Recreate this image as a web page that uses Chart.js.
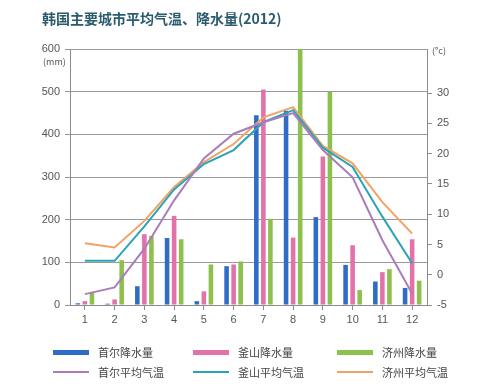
<!DOCTYPE html>
<html><head><meta charset="utf-8">
<script src="https://cdn.jsdelivr.net/npm/chart.js@4"></script>
<style>
html,body{margin:0;padding:0;background:#fff;}
#wrap{position:relative;width:500px;height:388px;overflow:hidden;font-family:"Noto Sans CJK SC","Liberation Sans",sans-serif;}
canvas{position:absolute;left:0;top:0;}
.t{position:absolute;white-space:nowrap;}
#title{left:42px;top:8px;font-size:14px;font-weight:bold;color:#2b5b6f;line-height:20px;}
.unit{font-size:9px;color:#555;line-height:10px;}
.lg{position:absolute;font-size:11px;color:#444;line-height:12px;white-space:nowrap;}
.mk{position:absolute;width:36px;}
</style></head><body>
<div id="wrap">
<canvas id="c" width="500" height="388"></canvas>
<div id="title" class="t">韩国主要城市平均气温、降水量(2012)</div>
<div class="t unit" style="left:43px;top:57px;">(mm)</div>
<div class="t unit" style="left:432px;top:46px;">(°c)</div>
<div id="legend"></div>
</div>
<script>
const months = ["1","2","3","4","5","6","7","8","9","10","11","12"];
const seoulRain = [4, 3, 44, 157, 9, 91, 445, 455, 206, 94, 55, 40];
const busanRain = [9, 13, 166, 209, 32, 95, 505, 158, 348, 140, 77, 154];
const jejuRain  = [29, 105, 162, 154, 95, 102, 202, 600, 499, 35, 84, 57];
const seoulTemp = [-3.2, -2.1, 4.3, 12.3, 19.2, 23.3, 25.2, 26.7, 20.6, 16.1, 5.7, -3.1];
const busanTemp = [2.3, 2.3, 8.0, 14.1, 18.3, 20.6, 25.2, 27.2, 21.0, 17.8, 9.6, 1.9];
const jejuTemp  = [5.2, 4.5, 8.9, 14.5, 18.6, 21.6, 26.0, 27.7, 21.3, 18.4, 12.0, 6.8];
const rainTicks = [0, 100, 200, 300, 400, 500, 600];
const tempTicks = [-5, 0, 5, 10, 15, 20, 25, 30];

const C = {blue:"#2f6cc6", pink:"#e272aa", green:"#8dc04c", purple:"#a97cbb", teal:"#2aa4b4", orange:"#f2a264"};

const legendItems = [
  {label:"首尔降水量", color:C.blue, bar:true, x:53, y:346},
  {label:"釜山降水量", color:C.pink, bar:true, x:193, y:346},
  {label:"济州降水量", color:C.green, bar:true, x:337, y:346},
  {label:"首尔平均气温", color:C.purple, bar:false, x:53, y:366},
  {label:"釜山平均气温", color:C.teal, bar:false, x:193, y:366},
  {label:"济州平均气温", color:C.orange, bar:false, x:337, y:366}
];
const lg = document.getElementById('legend');
legendItems.forEach(it=>{
  const m = document.createElement('div');
  m.className='mk';
  const h = it.bar?5:2;
  m.style.cssText=`left:${it.x}px;top:${it.y+6-h/2}px;height:${h}px;background:${it.color};`;
  lg.appendChild(m);
  const t = document.createElement('div');
  t.className='lg';
  t.style.left=(it.x+45)+'px'; t.style.top=it.y+'px';
  t.textContent=it.label;
  lg.appendChild(t);
});

const tickFont = {family:"'Liberation Sans', Arial, sans-serif", size:11};
new Chart(document.getElementById('c'), {
  data:{
    labels: months,
    datasets:[
      {type:'line', label:'首尔平均气温', data:seoulTemp, yAxisID:'yT', borderColor:C.purple, borderWidth:2, pointRadius:0, order:0, tension:0},
      {type:'line', label:'釜山平均气温', data:busanTemp, yAxisID:'yT', borderColor:C.teal, borderWidth:2, pointRadius:0, order:0, tension:0},
      {type:'line', label:'济州平均气温', data:jejuTemp, yAxisID:'yT', borderColor:C.orange, borderWidth:2, pointRadius:0, order:0, tension:0},
      {type:'bar', label:'首尔降水量', data:seoulRain, yAxisID:'yR', backgroundColor:C.blue, order:1, categoryPercentage:0.71, barPercentage:0.65},
      {type:'bar', label:'釜山降水量', data:busanRain, yAxisID:'yR', backgroundColor:C.pink, order:1, categoryPercentage:0.71, barPercentage:0.65},
      {type:'bar', label:'济州降水量', data:jejuRain, yAxisID:'yR', backgroundColor:C.green, order:1, categoryPercentage:0.71, barPercentage:0.65}
    ]
  },
  options:{
    responsive:false, animation:false,
    layout:{padding:{top:49, bottom:58, left:0, right:0}},
    plugins:{legend:{display:false}, tooltip:{enabled:false}, title:{display:false}},
    scales:{
      x:{
        offset:true,
        grid:{display:true, drawOnChartArea:false, drawTicks:true, tickLength:5, color:'#8c8c8c', offset:false},
        border:{color:'#8c8c8c', width:1},
        ticks:{color:'#555', font:tickFont, padding:3, maxRotation:0, autoSkip:false},
        afterFit:s=>{s.height=25;}
      },
      yR:{
        position:'left', min:0, max:600,
        afterBuildTicks:s=>{s.ticks = rainTicks.map(v=>({value:v}));},
        grid:{color:'#9a9a9a', lineWidth:1, tickLength:5},
        border:{color:'#8c8c8c', width:1},
        ticks:{color:'#555', font:tickFont, padding:5},
        afterFit:s=>{s.width=70;}
      },
      yT:{
        position:'right', min:-5, max:37.3,
        afterBuildTicks:s=>{s.ticks = tempTicks.map(v=>({value:v}));},
        grid:{drawOnChartArea:false, color:'#8c8c8c', tickLength:5},
        border:{color:'#8c8c8c', width:1},
        ticks:{color:'#555', font:tickFont, padding:5},
        afterFit:s=>{s.width=73;}
      }
    }
  }
});
</script>
</body></html>
